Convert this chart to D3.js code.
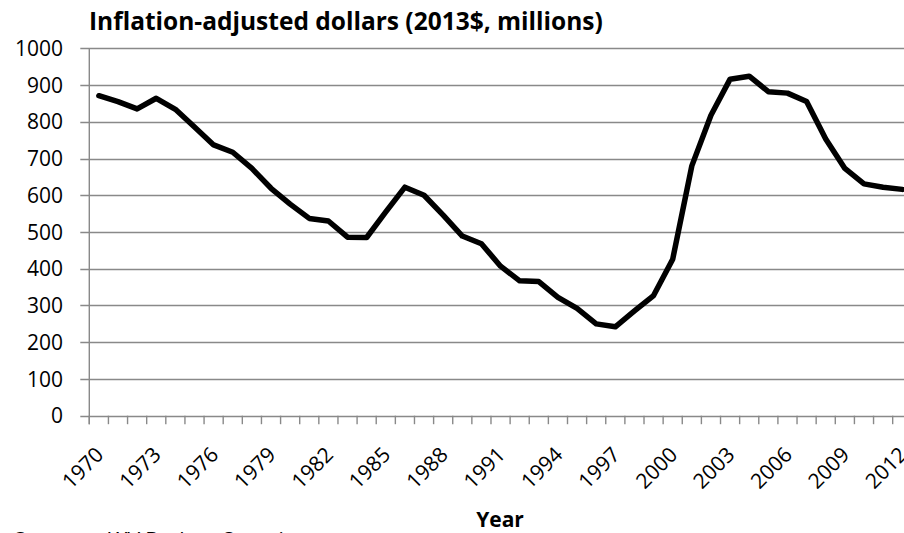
<!DOCTYPE html>
<html>
<head>
<meta charset="utf-8">
<script src="https://cdn.jsdelivr.net/npm/d3@7"></script>
<style>
  html, body { margin: 0; padding: 0; background: #fff; overflow: hidden; }
  svg { display: block; }
  text { font-family: "Open Sans", Lato, sans-serif; fill: #000; }
</style>
</head>
<body>
<script>
// Annual appropriations, inflation-adjusted (2013$, millions)
const years = d3.range(1970, 2013);
const values = [
  871, 855, 835, 864, 834, 786, 737, 717, 673, 619,
  576, 537, 530, 486, 485, 555, 622, 600, 546, 489,
  468, 407, 367, 365, 322, 292, 250, 242, 285, 327,
  426, 680, 818, 916, 924, 882, 878, 855, 753, 673,
  631, 622, 616
];
const yTicks = [0, 100, 200, 300, 400, 500, 600, 700, 800, 900, 1000];
const labelYears = years.filter((y, i) => i % 3 === 0);

const W = 904, H = 533;
const margin = { left: 89.3, top: 48.3, bottom: 415.7 };
const bandW = 19.128;

const svg = d3.select("body").append("svg")
  .attr("width", W).attr("height", H);

const x = d3.scaleBand()
  .domain(years)
  .range([margin.left, margin.left + years.length * bandW])
  .paddingInner(0).paddingOuter(0);

const y = d3.scaleLinear()
  .domain([0, 1000])
  .range([margin.bottom, margin.top]);

const gridColor = "#898989";

// horizontal gridlines with short ticks left of the axis
svg.append("g")
  .selectAll("line")
  .data(yTicks)
  .join("line")
  .attr("x1", margin.left - 9)
  .attr("x2", x.range()[1])
  .attr("y1", d => Math.round(y(d)) + 0.5)
  .attr("y2", d => Math.round(y(d)) + 0.5)
  .attr("stroke", gridColor)
  .attr("stroke-width", 1.4);

// vertical value axis line
svg.append("line")
  .attr("x1", margin.left).attr("x2", margin.left)
  .attr("y1", y(1000)).attr("y2", y(0) + 8.5)
  .attr("stroke", gridColor).attr("stroke-width", 1.4);

// category tick marks between years
const boundaries = years.map(d => x(d)).concat([x.range()[1]]);
svg.append("g")
  .selectAll("line")
  .data(boundaries)
  .join("line")
  .attr("x1", d => d).attr("x2", d => d)
  .attr("y1", y(0)).attr("y2", y(0) + 8.5)
  .attr("stroke", gridColor).attr("stroke-width", 1.4);

// y tick labels
svg.append("g")
  .selectAll("text")
  .data(yTicks)
  .join("text")
  .attr("x", 63)
  .attr("y", d => y(d))
  .attr("dy", "0.36em")
  .attr("text-anchor", "end")
  .style("font-size", "21px")
  .text(d => d);

// rotated year labels
svg.append("g")
  .selectAll("text")
  .data(labelYears)
  .join("text")
  .attr("text-anchor", "end")
  .attr("transform", d => `translate(${x(d) + x.bandwidth() / 2 + 6},${456}) rotate(-45)`)
  .style("font-size", "21px")
  .text(d => d);

// data line
const line = d3.line()
  .x((d, i) => x(years[i]) + x.bandwidth() / 2)
  .y(d => y(d));

svg.append("path")
  .datum(values)
  .attr("d", line)
  .attr("fill", "none")
  .attr("stroke", "#000")
  .attr("stroke-width", 5.5)
  .attr("stroke-linejoin", "round")
  .attr("stroke-linecap", "round");

// titles
svg.append("text")
  .attr("x", 89).attr("y", 30)
  .style("font-size", "24.5px")
  .style("font-weight", "bold")
  .text("Inflation-adjusted dollars (2013$, millions)");

svg.append("text")
  .attr("x", 500).attr("y", 527)
  .attr("text-anchor", "middle")
  .style("font-size", "21px")
  .style("font-weight", "bold")
  .text("Year");

const src = svg.append("text")
  .attr("x", 14).attr("y", 548)
  .style("font-size", "21px");
src.append("tspan").text("Source:");
src.append("tspan").attr("x", 108).text("WV Budget Overview");
</script>
</body>
</html>
